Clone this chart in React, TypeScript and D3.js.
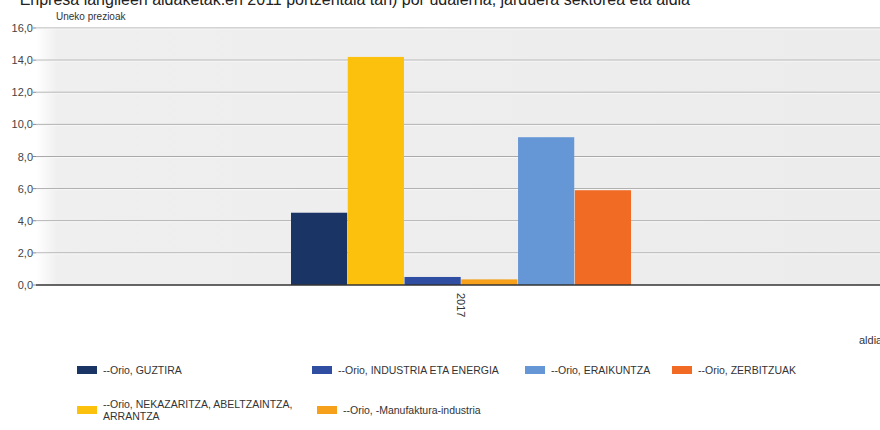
import React from "react";
import * as d3 from "d3";

// values (Uneko prezioak)
const periods = ["2017"];
const seriesNames = [
  "--Orio, GUZTIRA",
  "--Orio, NEKAZARITZA, ABELTZAINTZA, ARRANTZA",
  "--Orio, INDUSTRIA ETA ENERGIA",
  "--Orio, -Manufaktura-industria",
  "--Orio, ERAIKUNTZA",
  "--Orio, ZERBITZUAK",
];
const seriesValues = [4.5, 14.2, 0.5, 0.35, 9.2, 5.9];
const seriesColors = ["#1b3466", "#fcc10c", "#2f4ea2", "#f6a01c", "#6596d5", "#f26b24"];
const yTicks = [0, 2, 4, 6, 8, 10, 12, 14, 16];

// legend order as printed in the picture
const legendRows = [
  [0, 2, 4, 5],
  [1, 3],
];
const legendX = [
  [77, 312, 525, 672],
  [77, 317],
];

const W = 880;
const H = 430;
const margin = { top: 28, right: -6, bottom: 145, left: 36 };

const App = () => {
  const width = W - margin.left - margin.right;
  const height = H - margin.top - margin.bottom;

  const x = d3.scaleBand().domain(periods).range([0, width]).paddingInner(0).paddingOuter(0);
  const inner = d3
    .scaleBand<number>()
    .domain(seriesValues.map((_, i) => i))
    .range([x.bandwidth() * 0.3, x.bandwidth() * 0.7])
    .paddingInner(0.01);
  const y = d3.scaleLinear().domain([0, 16]).range([height, 0]);
  const fmt = (v: number) => v.toFixed(1).replace(".", ",");

  return (
    <svg
      width={W}
      height={H}
      style={{ position: "absolute", left: 0, top: 0, background: "#fff" }}
      fontFamily="'Liberation Sans', Arial, sans-serif"
    >
      <defs>
        <linearGradient id="plotBg" x1="0" x2="1" y1="0" y2="0">
          <stop offset="0" stopColor="#ffffff" />
          <stop offset="0.025" stopColor="#efefef" />
          <stop offset="1" stopColor="#ececec" />
        </linearGradient>
      </defs>

      <text x={690} y={5} textAnchor="end" fontSize={16} fill="#222">
        Enpresa langileen aldaketak.en 2011 portzentaia tan) por udalerria, jarduera sektorea eta aldia
      </text>

      <g transform={`translate(${margin.left},${margin.top})`}>
        <rect x={0} y={0} width={width} height={height} fill="url(#plotBg)" />

        {/* grid + y axis */}
        {yTicks.map((t) => (
          <g key={t} transform={`translate(0,${y(t)})`}>
            {t !== 0 && <line x1={0} x2={width} stroke="#a9a9a9" strokeWidth={1} />}
            {t !== 0 && <line x1={0} x2={width} y1={1} y2={1} stroke="#f8f8f8" strokeWidth={1} />}
            <line x1={-3} x2={0} stroke="#888" />
            <text x={-3} y={4} textAnchor="end" fontSize={11} fill="#444">
              {fmt(t)}
            </text>
          </g>
        ))}
        <text x={20} y={-8} fontSize={10} fill="#333">
          Uneko prezioak
        </text>

        {/* bars */}
        {periods.map((p) => (
          <g key={p} transform={`translate(${x(p)},0)`}>
            {seriesValues.map((v, i) => (
              <rect
                key={i}
                x={inner(i)}
                y={y(v)}
                width={inner.bandwidth()}
                height={y(0) - y(v)}
                fill={seriesColors[i]}
              />
            ))}
            <text
              transform={`translate(${x.bandwidth() / 2 - 4},${height + 8}) rotate(90)`}
              fontSize={11}
              fill="#333"
            >
              {p}
            </text>
          </g>
        ))}

        <line x1={0} x2={width} y1={y(0)} y2={y(0)} stroke="#333" strokeWidth={1.5} />

        <text x={width - 27} y={height + 59} fontSize={11} fill="#333">
          aldia
        </text>
      </g>

      {/* legend */}
      {legendRows.map((row, r) =>
        row.map((si, c) => {
          const lx = legendX[r][c];
          const ly = 370 + r * 40;
          const lines = seriesNames[si].includes("ABELTZAINTZA,")
            ? ["--Orio, NEKAZARITZA, ABELTZAINTZA,", "ARRANTZA"]
            : [seriesNames[si]];
          return (
            <g key={si}>
              <rect x={lx} y={ly - 4} width={20} height={8} fill={seriesColors[si]} />
              {lines.map((ln, k) => (
                <text
                  key={k}
                  x={lx + 26}
                  y={ly + 4 - (lines.length - 1) * 6 + k * 12}
                  fontSize={10.5}
                  fill="#333"
                >
                  {ln}
                </text>
              ))}
            </g>
          );
        })
      )}
    </svg>
  );
};

export default App;
